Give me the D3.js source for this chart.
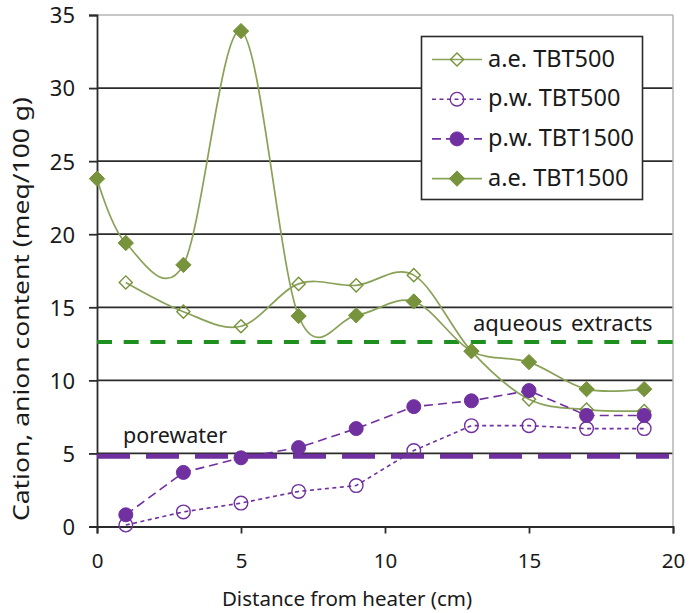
<!DOCTYPE html>
<html><head><meta charset="utf-8">
<script src="https://cdn.jsdelivr.net/npm/d3@7"></script>
<style>body{margin:0;background:#fff}svg{display:block}text{font-family:"Noto Sans",sans-serif;fill:#1a1a1a}</style>
</head><body><svg id="c" width="691" height="613"></svg>
<script>
const distAll = [0,1,3,5,7,9,11,13,15,17,19];
const dist1 = [1,3,5,7,9,11,13,15,17,19];
const aeTBT500 = [16.7,14.7,13.7,16.6,16.5,17.2,12.0,8.7,8.0,7.9];
const pwTBT500 = [0.1,1.0,1.6,2.4,2.8,5.2,6.9,6.9,6.7,6.7];
const pwTBT1500 = [0.8,3.7,4.7,5.4,6.7,8.2,8.6,9.3,7.6,7.6];
const aeTBT1500 = [23.8,19.4,17.9,33.9,14.4,14.45,15.4,12.0,11.25,9.4,9.4];
const xTicks = [0,5,10,15,20];
const yTicks = [0,5,10,15,20,25,30,35];
const refLabels = ["aqueous extracts","porewater"];
const refValues = [12.63,4.8];
const xTitle = "Distance from heater (cm)";
const yTitle = "Cation, anion content (meq/100 g)";
const legendLabels = ["a.e. TBT500","p.w. TBT500","p.w. TBT1500","a.e. TBT1500"];

const GREEN="#77933c", GLINE="#89a257", PURPLE="#7030a0";
const svg = d3.select("#c");
const L=97,R=673,T=15,B=526.5;
const x = d3.scaleLinear().domain([0,20]).range([L,R]);
const y = d3.scaleLinear().domain([0,35]).range([B,T]);

// gridlines
svg.append("g").selectAll("line").data(yTicks.filter(d=>d>0&&d<35)).join("line")
  .attr("x1",L).attr("x2",R).attr("y1",d=>y(d)).attr("y2",d=>y(d))
  .attr("stroke","#2b2b2b").attr("stroke-width",1.8);
// plot border top/right
svg.append("line").attr("x1",L).attr("x2",R).attr("y1",y(35)).attr("y2",y(35)).attr("stroke","#b5b5b5").attr("stroke-width",1.5);
svg.append("line").attr("x1",R).attr("x2",R).attr("y1",y(35)).attr("y2",y(0)).attr("stroke","#b5b5b5").attr("stroke-width",1.5);

// axes
const xAxis = svg.append("g").attr("transform",`translate(0,${B})`)
  .call(d3.axisBottom(x).tickValues(xTicks).tickSize(7).tickPadding(0).tickFormat(d3.format("d")));
xAxis.select(".domain").attr("stroke","#2b2b2b").attr("stroke-width",1.8);
xAxis.selectAll(".tick line").attr("stroke","#2b2b2b").attr("stroke-width",1.8);
xAxis.selectAll(".tick text").attr("y",41.5).attr("dy",null).attr("font-size","20.5px").attr("fill","#1a1a1a");
const yAxis = svg.append("g").attr("transform",`translate(${L},0)`)
  .call(d3.axisLeft(y).tickValues(yTicks).tickSize(8).tickPadding(0).tickFormat(d3.format("d")));
yAxis.select(".domain").attr("stroke","#2b2b2b").attr("stroke-width",1.8);
yAxis.selectAll(".tick line").attr("stroke","#2b2b2b").attr("stroke-width",1.8);
yAxis.selectAll(".tick text").attr("x",-22).attr("dy","0.36em").attr("font-size","22px").attr("fill","#1a1a1a");
yAxis.selectAll(".tick text").style("font-family","'Noto Sans',sans-serif");
xAxis.selectAll(".tick text").style("font-family","'Noto Sans',sans-serif");

// titles
svg.append("text").attr("x",347).attr("y",606).attr("text-anchor","middle").attr("font-size","20.5px").text(xTitle);
svg.append("text").attr("transform","translate(29,309) rotate(-90)").attr("text-anchor","middle")
  .attr("font-size","22px").attr("textLength",424).attr("lengthAdjust","spacingAndGlyphs").text(yTitle);

// reference lines
svg.append("line").attr("x1",L).attr("x2",R).attr("y1",y(refValues[0])).attr("y2",y(refValues[0]))
  .attr("stroke","#1e9020").attr("stroke-width",4).attr("stroke-dasharray","15,11.7");
svg.append("line").attr("x1",L).attr("x2",R).attr("y1",y(refValues[1])).attr("y2",y(refValues[1]))
  .attr("stroke",PURPLE).attr("stroke-width",5).attr("stroke-dasharray","33,16");
svg.append("text").attr("x",473).attr("y",331).attr("font-size","22px").attr("word-spacing","3px").text(refLabels[0]);
svg.append("text").attr("x",123).attr("y",443).attr("font-size","21.5px").text(refLabels[1]);

// series
const smooth = d3.line().x(d=>x(d[0])).y(d=>y(d[1])).curve(d3.curveCatmullRom.alpha(0));
const straight = d3.line().x(d=>x(d[0])).y(d=>y(d[1]));
const s1 = d3.zip(dist1, aeTBT500), s2 = d3.zip(dist1, pwTBT500), s3 = d3.zip(dist1, pwTBT1500), s4 = d3.zip(distAll, aeTBT1500);
const diamond = d3.symbol().type(d3.symbolDiamond2);

function drawSeries(data, lineGen, lineStyle, marker){
  const g = svg.append("g");
  g.append("path").attr("d",lineGen(data)).attr("fill","none").attr("stroke",lineStyle.color)
    .attr("stroke-width",lineStyle.width).attr("stroke-dasharray",lineStyle.dash||null);
  g.selectAll(".m").data(data).join(enter=>marker(enter.append("g").attr("transform",d=>`translate(${x(d[0])},${y(d[1])})`)));
}
const mk = {
  openDiamond: s=>s.append("path").attr("d",diamond.size(110)()).attr("fill","none").attr("stroke",GREEN).attr("stroke-width",1.4),
  fillDiamond: s=>s.append("path").attr("d",diamond.size(150)()).attr("fill",GREEN).attr("stroke",GREEN).attr("stroke-width",1),
  openCircle: s=>s.append("circle").attr("r",6.8).attr("fill","none").attr("stroke",PURPLE).attr("stroke-width",1.4),
  fillCircle: s=>s.append("circle").attr("r",7).attr("fill",PURPLE).attr("stroke",PURPLE).attr("stroke-width",1)
};
const styles = [
  {color:GLINE,width:1.7},
  {color:PURPLE,width:1.6,dash:"4,3.5"},
  {color:PURPLE,width:1.6,dash:"9,5"},
  {color:GLINE,width:1.7}
];
drawSeries(s1, smooth, styles[0], mk.openDiamond);
drawSeries(s2, straight, styles[1], mk.openCircle);
drawSeries(s3, straight, styles[2], mk.fillCircle);
drawSeries(s4, smooth, styles[3], mk.fillDiamond);

// legend
const lg = svg.append("g");
lg.append("rect").attr("x",421.5).attr("y",36.5).attr("width",221).attr("height",163)
  .attr("fill","#fff").attr("stroke","#2b2b2b").attr("stroke-width",1.6);
const markers = [mk.openDiamond, mk.openCircle, mk.fillCircle, mk.fillDiamond];
legendLabels.forEach((lab,i)=>{
  const by = 66.5 + i*39.7, cy = by - 7;
  lg.append("line").attr("x1",432).attr("x2",482).attr("y1",cy).attr("y2",cy)
    .attr("stroke",styles[i].color).attr("stroke-width",styles[i].width).attr("stroke-dasharray",styles[i].dash||null);
  markers[i](lg.append("g").attr("transform",`translate(457,${cy})`));
  lg.append("text").attr("x",488).attr("y",by).attr("font-size","23.5px").text(lab);
});
</script></body></html>
